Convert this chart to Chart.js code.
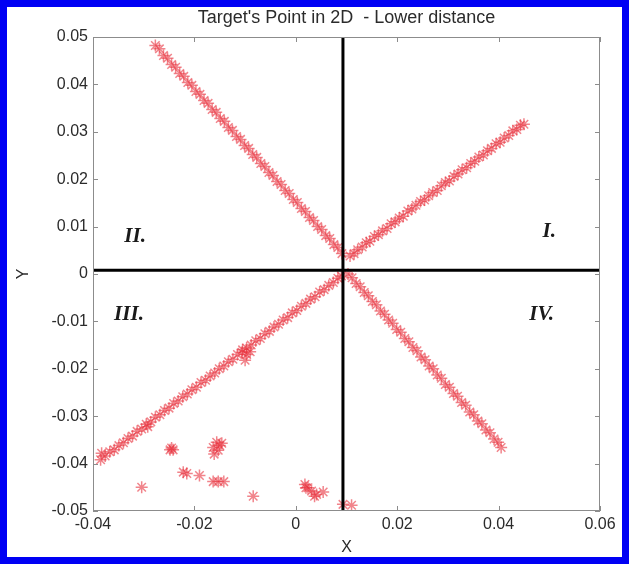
<!DOCTYPE html>
<html>
<head>
<meta charset="utf-8">
<script src="https://cdn.jsdelivr.net/npm/chart.js@4.4.1/dist/chart.umd.min.js"></script>
<style>
  html, body { margin: 0; padding: 0; background: #fff; }
  #frame {
    width: 629px; height: 564px; box-sizing: border-box;
    border: 7px solid #0000f4; background: #fff;
  }
  canvas { display: block; }
</style>
</head>
<body>
<div id="frame"><canvas id="c" width="615" height="550"></canvas></div>
<script>
// Quadrant I branch (upper right)
const quadI = [
  [0.0107,0.0038],[0.0115,0.0043],[0.0122,0.0051],[0.0131,0.0057],[0.0139,0.0066],
  [0.0146,0.0069],[0.0155,0.0079],[0.0163,0.0083],[0.0171,0.0091],[0.0180,0.0096],
  [0.0188,0.0106],[0.0196,0.0110],[0.0204,0.0118],[0.0212,0.0122],[0.0221,0.0133],
  [0.0229,0.0137],[0.0237,0.0145],[0.0246,0.0153],[0.0254,0.0156],[0.0262,0.0165],
  [0.0270,0.0172],[0.0279,0.0176],[0.0287,0.0186],[0.0295,0.0193],[0.0303,0.0196],
  [0.0312,0.0206],[0.0320,0.0211],[0.0328,0.0220],[0.0337,0.0224],[0.0345,0.0233],
  [0.0353,0.0238],[0.0361,0.0247],[0.0370,0.0251],[0.0378,0.0260],[0.0386,0.0265],
  [0.0395,0.0275],[0.0403,0.0278],[0.0411,0.0287],[0.0420,0.0292],[0.0428,0.0302],
  [0.0436,0.0305],[0.0443,0.0314],[0.0450,0.0316]
];

// Quadrant II branch (upper left)
const quadII = [
  [-0.0277,0.0482],[-0.0269,0.0475],[-0.0261,0.0461],[-0.0253,0.0455],[-0.0245,0.0442],
  [-0.0237,0.0436],[-0.0229,0.0423],[-0.0221,0.0417],[-0.0213,0.0404],[-0.0205,0.0398],
  [-0.0197,0.0385],[-0.0189,0.0379],[-0.0181,0.0366],[-0.0173,0.0360],[-0.0165,0.0347],
  [-0.0157,0.0341],[-0.0149,0.0328],[-0.0141,0.0322],[-0.0133,0.0309],[-0.0125,0.0303],
  [-0.0117,0.0290],[-0.0109,0.0284],[-0.0101,0.0271],[-0.0093,0.0265],[-0.0085,0.0252],
  [-0.0077,0.0246],[-0.0069,0.0233],[-0.0061,0.0227],[-0.0053,0.0214],[-0.0045,0.0208],
  [-0.0037,0.0195],[-0.0029,0.0189],[-0.0021,0.0176],[-0.0013,0.0170],[-0.0005,0.0157],
  [0.0003,0.0151],[0.0011,0.0138],[0.0019,0.0132],[0.0027,0.0119],[0.0035,0.0113],
  [0.0043,0.0100],[0.0051,0.0094],[0.0059,0.0081],[0.0067,0.0075],[0.0075,0.0062],
  [0.0083,0.0056],[0.0091,0.0043]
];

// Quadrant III branch (lower left), with the small off-line group near x = -0.01
const quadIII = [
  [-0.0385,-0.0392],[-0.0383,-0.0378],[-0.0376,-0.0384],[-0.0367,-0.0375],[-0.0358,-0.0371],
  [-0.0349,-0.0362],[-0.0340,-0.0356],[-0.0331,-0.0347],[-0.0322,-0.0342],[-0.0313,-0.0332],
  [-0.0304,-0.0327],[-0.0295,-0.0317],[-0.0292,-0.0322],[-0.0286,-0.0312],[-0.0277,-0.0302],
  [-0.0268,-0.0297],[-0.0259,-0.0288],[-0.0250,-0.0283],[-0.0241,-0.0273],[-0.0232,-0.0268],
  [-0.0223,-0.0259],[-0.0214,-0.0253],[-0.0205,-0.0244],[-0.0196,-0.0239],[-0.0187,-0.0229],
  [-0.0178,-0.0224],[-0.0169,-0.0215],[-0.0160,-0.0209],[-0.0151,-0.0200],[-0.0142,-0.0194],
  [-0.0133,-0.0185],[-0.0124,-0.0180],[-0.0115,-0.0170],[-0.0106,-0.0165],[-0.0097,-0.0156],
  [-0.0088,-0.0150],[-0.0079,-0.0141],[-0.0070,-0.0136],[-0.0061,-0.0126],[-0.0052,-0.0121],
  [-0.0043,-0.0112],[-0.0034,-0.0106],[-0.0025,-0.0097],[-0.0016,-0.0092],[-0.0007,-0.0082],
  [0.0002,-0.0077],[0.0011,-0.0068],[0.0020,-0.0062],[0.0029,-0.0053],[0.0038,-0.0048],
  [0.0047,-0.0038],[0.0056,-0.0033],[0.0065,-0.0024],[0.0074,-0.0018],[0.0083,-0.0009],
  [0.0090,-0.0004],
  [-0.0105,-0.0160],[-0.0097,-0.0170],[-0.0100,-0.0182],[-0.0090,-0.0164]
];

// Quadrant IV branch (lower right)
const quadIV = [
  [0.0103,0.0000],[0.0111,-0.0008],[0.0119,-0.0020],[0.0127,-0.0027],[0.0135,-0.0039],
  [0.0143,-0.0046],[0.0151,-0.0058],[0.0159,-0.0065],[0.0167,-0.0078],[0.0175,-0.0085],
  [0.0183,-0.0097],[0.0191,-0.0104],[0.0199,-0.0117],[0.0207,-0.0123],[0.0215,-0.0136],
  [0.0223,-0.0143],[0.0231,-0.0155],[0.0239,-0.0162],[0.0247,-0.0175],[0.0255,-0.0181],
  [0.0263,-0.0194],[0.0271,-0.0200],[0.0279,-0.0213],[0.0287,-0.0220],[0.0295,-0.0233],
  [0.0303,-0.0239],[0.0311,-0.0252],[0.0319,-0.0258],[0.0327,-0.0271],[0.0335,-0.0277],
  [0.0343,-0.0291],[0.0351,-0.0297],[0.0359,-0.0310],[0.0367,-0.0316],[0.0375,-0.0329],
  [0.0383,-0.0335],[0.0391,-0.0348],[0.0399,-0.0355],[0.0405,-0.0366]
];

// Stray points near the bottom of the plot
const stray = [
  [-0.0304,-0.0450],
  [-0.0248,-0.0371],[-0.0242,-0.0371],[-0.0245,-0.0367],
  [-0.0222,-0.0418],[-0.0215,-0.0421],
  [-0.0190,-0.0425],
  [-0.0163,-0.0366],[-0.0156,-0.0355],[-0.0146,-0.0357],[-0.0161,-0.0380],[-0.0153,-0.0372],[-0.0150,-0.0362],
  [-0.0163,-0.0438],[-0.0153,-0.0438],[-0.0142,-0.0438],
  [-0.0084,-0.0469],
  [0.0018,-0.0444],[0.0024,-0.0451],[0.0031,-0.0458],[0.0041,-0.0465],[0.0054,-0.0460],[0.0037,-0.0469],[0.0020,-0.0451],
  [0.0093,-0.0486],[0.0110,-0.0488]
];

// Reference cross-hair through the target point
const crossX = 0.0093;
const crossY = 0.0008;

// Axis ticks and labels
const xTicks = [-0.04, -0.02, 0, 0.02, 0.04, 0.06];
const xTickLabels = ['-0.04', '-0.02', '0', '0.02', '0.04', '0.06'];
const yTicks = [-0.05, -0.04, -0.03, -0.02, -0.01, 0, 0.01, 0.02, 0.03, 0.04, 0.05];
const yTickLabels = ['-0.05', '-0.04', '-0.03', '-0.02', '-0.01', '0', '0.01', '0.02', '0.03', '0.04', '0.05'];

// Quadrant names and where they sit (data coordinates)
const quadrantNames = ['I.', 'II.', 'III.', 'IV.'];
const quadrantSpots = [[0.0500, 0.0089], [-0.0317, 0.0078], [-0.0329, -0.0086], [0.0485, -0.0086]];

const toXY = arr => arr.map(p => ({ x: p[0], y: p[1] }));
const allPoints = [].concat(quadI, quadII, quadIII, quadIV, stray);

const SANS = "'Liberation Sans', Arial, sans-serif";

const markerStyle = {
  type: 'scatter',
  pointStyle: 'star',
  pointRadius: 6,
  pointBorderWidth: 1.5,
  pointBorderColor: 'rgba(232,50,62,0.6)',
  pointBackgroundColor: 'rgba(232,50,62,0.6)',
  showLine: false,
  order: 2
};

const boxAndLabels = {
  id: 'boxAndLabels',
  afterDraw(chart) {
    const { ctx, chartArea: a, scales } = chart;
    const xs = scales.x, ys = scales.y;
    ctx.save();
    // axes box
    ctx.strokeStyle = '#8c8c8c';
    ctx.lineWidth = 1;
    ctx.strokeRect(a.left + 0.5, a.top + 0.5, a.right - a.left - 1, a.bottom - a.top - 1);
    // inward tick marks on all four sides
    const tl = 5;
    ctx.beginPath();
    xTicks.forEach(v => {
      const px = Math.round(xs.getPixelForValue(v)) + 0.5;
      ctx.moveTo(px, a.bottom); ctx.lineTo(px, a.bottom - tl);
      ctx.moveTo(px, a.top); ctx.lineTo(px, a.top + tl);
    });
    yTicks.forEach(v => {
      const py = Math.round(ys.getPixelForValue(v)) + 0.5;
      ctx.moveTo(a.left, py); ctx.lineTo(a.left + tl, py);
      ctx.moveTo(a.right, py); ctx.lineTo(a.right - tl, py);
    });
    ctx.stroke();
    // quadrant names
    ctx.fillStyle = '#1a1a1a';
    ctx.font = "italic bold 21px 'Liberation Serif', 'Times New Roman', serif";
    ctx.textAlign = 'center';
    ctx.textBaseline = 'middle';
    quadrantNames.forEach((t, i) => {
      ctx.fillText(t, xs.getPixelForValue(quadrantSpots[i][0]), ys.getPixelForValue(quadrantSpots[i][1]));
    });
    ctx.restore();
  }
};

new Chart(document.getElementById('c'), {
  type: 'scatter',
  data: {
    datasets: [
      { data: toXY(allPoints), ...markerStyle },
      {
        type: 'line',
        data: [{ x: crossX, y: -0.05 }, { x: crossX, y: 0.05 }],
        borderColor: '#000', borderWidth: 3, pointRadius: 0, showLine: true, order: 1
      },
      {
        type: 'line',
        data: [{ x: -0.04, y: crossY }, { x: 0.06, y: crossY }],
        borderColor: '#000', borderWidth: 3, pointRadius: 0, showLine: true, order: 1
      }
    ]
  },
  options: {
    responsive: false,
    animation: false,
    devicePixelRatio: 1,
    layout: { padding: { left: 7, right: 22, top: 0, bottom: 0 } },
    plugins: {
      legend: { display: false },
      tooltip: { enabled: false },
      title: {
        display: true,
        fullSize: false,
        text: "Target's Point in 2D  - Lower distance",
        color: '#2b2b2b',
        font: { family: SANS, size: 18, weight: 'normal' },
        padding: { top: 0, bottom: 8.4 }
      }
    },
    scales: {
      x: {
        type: 'linear',
        min: -0.04, max: 0.06,
        afterBuildTicks: s => { s.ticks = xTicks.map(v => ({ value: v })); },
        afterFit: s => { s.height = 46; },
        grid: { display: false, drawTicks: false },
        border: { display: false },
        ticks: {
          autoSkip: false, maxRotation: 0, padding: 4.4,
          color: '#2b2b2b', font: { family: SANS, size: 16 },
          callback: (v, i) => xTickLabels[i]
        },
        title: {
          display: true, text: 'X', color: '#2b2b2b',
          font: { family: SANS, size: 16 }, padding: { top: 0, bottom: 0 }
        }
      },
      y: {
        type: 'linear',
        min: -0.05, max: 0.05,
        afterBuildTicks: s => { s.ticks = yTicks.map(v => ({ value: v })); },
        afterFit: s => { s.width = 79; },
        grid: { display: false, drawTicks: false },
        border: { display: false },
        ticks: {
          autoSkip: false, padding: 5,
          color: '#2b2b2b', font: { family: SANS, size: 16 },
          callback: (v, i) => yTickLabels[i]
        },
        title: {
          display: true, text: 'Y', color: '#2b2b2b',
          font: { family: SANS, size: 16 }, padding: { top: 0, bottom: 0 }
        }
      }
    }
  },
  plugins: [boxAndLabels]
});
</script>
</body>
</html>
